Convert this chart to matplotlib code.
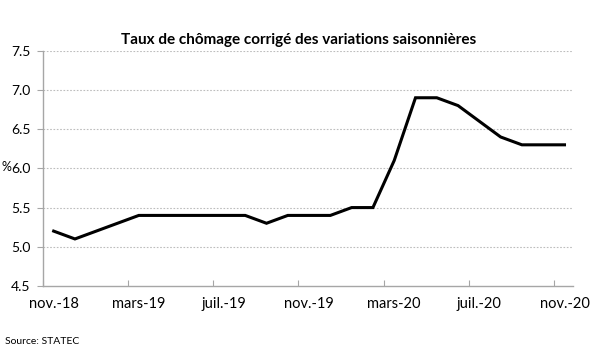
import matplotlib
matplotlib.use("Agg")
import matplotlib.pyplot as plt
import numpy as np

# monthly unemployment rate, nov.-18 .. nov.-20
months = ["nov.-18", "déc.-18", "janv.-19", "févr.-19", "mars-19", "avr.-19", "mai-19",
          "juin-19", "juil.-19", "août-19", "sept.-19", "oct.-19", "nov.-19", "déc.-19",
          "janv.-20", "févr.-20", "mars-20", "avr.-20", "mai-20", "juin-20", "juil.-20",
          "août-20", "sept.-20", "oct.-20", "nov.-20"]
taux = [5.2, 5.1, 5.2, 5.3, 5.4, 5.4, 5.4, 5.4, 5.4, 5.4, 5.3, 5.4, 5.4, 5.4,
        5.5, 5.5, 6.1, 6.9, 6.9, 6.8, 6.6, 6.4, 6.3, 6.3, 6.3]
yticks = [4.5, 5.0, 5.5, 6.0, 6.5, 7.0, 7.5]

plt.rcParams['font.family'] = ['Lato', 'DejaVu Sans']
grey = '#a6a6a6'

fig = plt.figure(figsize=(6, 3.59), dpi=100)
ax = fig.add_axes([0.0717, 0.2033, 0.8833, 0.6555])

x = np.arange(len(taux))
ax.plot(x, taux, color='black', lw=2.2, solid_joinstyle='miter')

ax.set_xlim(-0.5, len(taux) - 0.6)
ax.set_ylim(4.5, 7.5)
ax.set_yticks(yticks)
ax.set_yticklabels(["%.1f" % v for v in yticks], fontsize=10)
for v in yticks[1:]:
    ax.axhline(v, color='#bdbdbd', lw=0.8, ls=(0, (1.5, 1.5)), zorder=0)

# ticks between categories, labels every 4 months
ax.set_xticks(np.arange(-0.5, len(taux), 4))
ax.set_xticklabels([])
ax.set_xticks(x[::4], minor=True)
ax.set_xticklabels([months[i] for i in x[::4]], minor=True, fontsize=10.5)
ax.tick_params(axis='x', which='minor', length=0, pad=8)
ax.tick_params(axis='x', which='major', length=4, color=grey, direction='in')
ax.tick_params(axis='y', length=4, color=grey, pad=5)

for s in ['top', 'right']:
    ax.spines[s].set_visible(False)
for s in ['left', 'bottom']:
    ax.spines[s].set_color(grey)
    ax.spines[s].set_linewidth(1)

fig.text(0.497, 0.888, "Taux de chômage corrigé des variations saisonnières",
         ha='center', va='center', fontsize=11, fontweight='bold')
fig.text(0.003, 0.535, "%", ha='left', va='center', fontsize=9)
fig.text(0.008, 0.05, "Source: STATEC", ha='left', va='center', fontsize=7.5)

fig.savefig("out.png", dpi=100)
